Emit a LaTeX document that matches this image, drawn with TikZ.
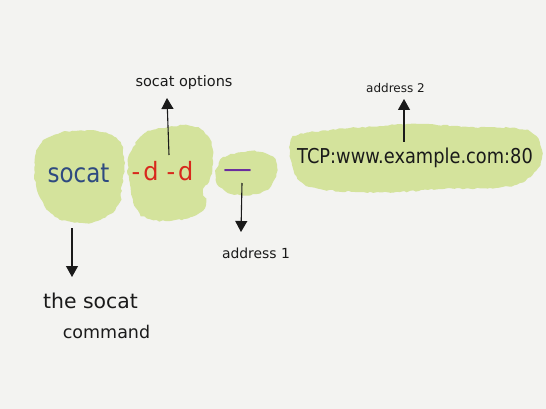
\documentclass[tikz,border=0pt]{standalone}
\usepackage{fontspec}
\setmainfont{DejaVu Sans}
\usetikzlibrary{arrows.meta,decorations.pathmorphing}
\definecolor{paper}{RGB}{243,243,241}
\definecolor{blob}{RGB}{212,227,156}
\definecolor{socblue}{RGB}{46,74,128}
\definecolor{optred}{RGB}{216,40,28}
\definecolor{addrpurple}{RGB}{106,44,158}
\definecolor{ink}{RGB}{26,26,26}
\tikzset{
  blobfill/.style={fill=blob, decorate, decoration={random steps, segment length=3pt, amplitude=0.8pt}},
  txt/.style={anchor=base, inner sep=0pt, text=ink},
  arr/.style={draw=ink, line width=1.1pt, -{Triangle[length=11pt,width=12pt]}}
}
\begin{document}
\begin{tikzpicture}[x=1pt,y=-1pt]
\pgfmathsetseed{7}
\fill[paper] (0,0) rectangle (546,409);
\useasboundingbox (0,0) rectangle (546,409);
% blobs
\path[blobfill] plot[smooth cycle, tension=0.8] coordinates {(38,148) (52,136) (75,131) (100,132) (118,140) (124,160) (122,185) (118,205) (100,220) (80,223) (58,218) (44,205) (36,185) (35,165)};
\path[blobfill] plot[smooth cycle, tension=0.8] coordinates {(132,150) (145,133) (165,128) (190,126) (207,135) (213,155) (210,178) (203,190) (206,203) (196,215) (175,220) (150,219) (136,208) (130,185) (128,165)};
\path[blobfill] plot[smooth cycle, tension=0.8] coordinates {(217,168) (225,157) (245,152) (265,153) (276,162) (274,180) (262,192) (240,195) (224,190) (216,180)};
\path[blobfill] plot[smooth cycle, tension=0.7] coordinates {(290,145) (298,135) (330,130) (380,126) (420,124) (470,127) (510,128) (532,133) (542,150) (538,168) (520,183) (490,188) (440,189) (400,192) (360,192) (320,189) (300,181) (292,165)};
% main texts
\node[txt, text=socblue, font=\fontsize{23}{23}\selectfont] (cmd) at (78.5,182) {\scalebox{1}[1.15]{socat}};
\node[txt, text=optred, font=\fontsize{24}{24}\selectfont] (opts) at (162.5,180) {\scalebox{1}[1.05]{-\kern3pt d\kern8pt-\kern3pt d}};
\node[txt, text=addrpurple, font=\fontsize{29}{29}\selectfont] (addra) at (238,178) {—};
\node[txt, font=\fontsize{17.8}{17.8}\selectfont] (addrb) at (415,164) {\scalebox{1}[1.15]{TCP:www.example.com:80}};
% labels
\node[txt, font=\fontsize{14.5}{14.5}\selectfont] (lblopts) at (184,87) {socat options};
\node[txt, font=\fontsize{12}{12}\selectfont] (lbladdrb) at (395.5,92.5) {address 2};
\node[txt, font=\fontsize{13.9}{13.9}\selectfont] (lbladdra) at (256,258) {address 1};
\node[txt, font=\fontsize{20.4}{20.4}\selectfont] (lblcmda) at (90.5,308) {the socat};
\node[txt, font=\fontsize{17.5}{17.5}\selectfont] (lblcmdb) at (106.5,338) {command};
% arrow ends
\coordinate (optsrc) at (169,155);
\coordinate (opttip) at (167,98);
\coordinate (bsrc) at (404,142);
\coordinate (btip) at (404,99);
\coordinate (asrc) at (242,183);
\coordinate (atip) at (241,232);
\coordinate (cmdsrc) at (72,228);
\coordinate (cmdtip) at (72,277);
\draw[arr] (optsrc) -- (opttip);
\draw[arr] (bsrc) -- (btip);
\draw[arr] (asrc) -- (atip);
\draw[arr] (cmdsrc) -- (cmdtip);
\end{tikzpicture}
\end{document}
